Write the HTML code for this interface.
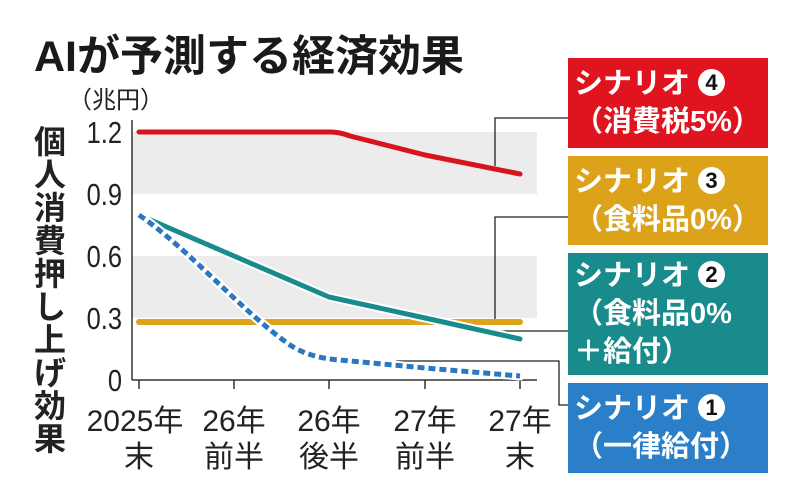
<!DOCTYPE html>
<html><head><meta charset="utf-8"><style>
html,body{margin:0;padding:0;background:#fff;}
body{width:800px;height:503px;overflow:hidden;position:relative;font-family:"Liberation Sans","Noto Sans CJK JP",sans-serif;}
.box{position:absolute;left:568px;width:200px;color:#fff;font-weight:bold;font-size:29px;line-height:38px;padding-left:6px;box-sizing:border-box;letter-spacing:0px;white-space:nowrap;}
.c{display:inline-block;width:27px;height:27px;border-radius:50%;background:#fff;color:#111;font-size:22px;line-height:27px;text-align:center;vertical-align:3px;margin-left:8px;letter-spacing:0;}
</style></head><body>
<svg width="800" height="503" style="position:absolute;left:0;top:0" font-family="Liberation Sans, Noto Sans CJK JP, sans-serif">
<text x="34" y="71" font-size="43" font-weight="bold" fill="#1a1a1a">AIが予測する経済効果</text>
<text x="68" y="108" font-size="24" fill="#222">（兆円）</text>
<g font-size="32" font-weight="bold" fill="#222" text-anchor="middle">
<text x="50" y="153">個</text><text x="50" y="186">人</text><text x="50" y="219">消</text><text x="50" y="252">費</text><text x="50" y="285">押</text><text x="50" y="318">し</text><text x="50" y="351">上</text><text x="50" y="384">げ</text><text x="50" y="417">効</text><text x="50" y="450">果</text>
</g>
<rect x="132" y="132" width="405" height="62" fill="#ececec"/>
<rect x="132" y="256" width="405" height="62" fill="#ececec"/>
<line x1="132" y1="120" x2="132" y2="380" stroke="#333" stroke-width="1.5"/>
<line x1="132" y1="380" x2="537" y2="380" stroke="#333" stroke-width="1.5"/>
<g stroke="#333" stroke-width="1.5">
<line x1="139" y1="380" x2="139" y2="389"/><line x1="234" y1="380" x2="234" y2="389"/><line x1="329" y1="380" x2="329" y2="389"/><line x1="425" y1="380" x2="425" y2="389"/><line x1="520" y1="380" x2="520" y2="389"/>
</g>
<g font-size="31" fill="#222" text-anchor="end">
<text x="122" y="143" transform="translate(122 0) scale(0.82 1) translate(-122 0)">1.2</text>
<text x="122" y="205" transform="translate(122 0) scale(0.82 1) translate(-122 0)">0.9</text>
<text x="122" y="267" transform="translate(122 0) scale(0.82 1) translate(-122 0)">0.6</text>
<text x="122" y="329" transform="translate(122 0) scale(0.82 1) translate(-122 0)">0.3</text>
<text x="122" y="391" transform="translate(122 0) scale(0.82 1) translate(-122 0)">0</text>
</g>
<g font-size="30" fill="#222" text-anchor="middle">
<text x="135" y="431">2025年</text><text x="139" y="467">末</text>
<text x="234" y="431">26年</text><text x="234" y="467">前半</text>
<text x="329" y="431">26年</text><text x="329" y="467">後半</text>
<text x="425" y="431">27年</text><text x="425" y="467">前半</text>
<text x="520" y="431">27年</text><text x="520" y="467">末</text>
</g>
<g fill="none" stroke="#222" stroke-width="1.3">
<polyline points="568,118 495,118 495,166"/>
<polyline points="568,217 495,217 495,320"/>
<polyline points="500,331 568,331"/>
<polyline points="396,361 559,361 559,405 568,405"/>
</g>
<g fill="none" stroke-linecap="round" stroke-linejoin="round">
<line x1="139" y1="322" x2="520" y2="322" stroke="#dba21a" stroke-width="6"/>
<path d="M139,132 L330,132 Q340,132 350,136 L425,155 L520,174" stroke="#d7141e" stroke-width="5"/>
<polyline points="139,215 234,256 329,297 425,318 520,339" stroke="#fff" stroke-width="9"/>
<polyline points="139,215 234,256 329,297 425,318 520,339" stroke="#1a8b8c" stroke-width="5"/>
<path d="M139,215 C190,250 240,310 290,345 Q310,358 340,360 L425,368 L520,376" stroke="#fff" stroke-width="9"/>
<path d="M139,215 C190,250 240,310 290,345 Q310,358 340,360 L425,368 L520,376" stroke="#2b78c0" stroke-width="5" stroke-dasharray="7,4" stroke-linecap="butt"/>
</g>
</svg>
<div class="box" style="top:58px;height:90px;background:#e0141e;padding-top:7px">シナリオ<span class="c">4</span><br>（消費税5%）</div>
<div class="box" style="top:156px;height:89px;background:#dca21a;padding-top:7px">シナリオ<span class="c">3</span><br>（食料品0%）</div>
<div class="box" style="top:253px;height:122px;background:#1a8b8c;padding-top:4px">シナリオ<span class="c">2</span><br>（食料品0%<br>＋給付）</div>
<div class="box" style="top:383px;height:90px;background:#2b7fc8;padding-top:7px">シナリオ<span class="c">1</span><br>（一律給付）</div>
</body></html>
